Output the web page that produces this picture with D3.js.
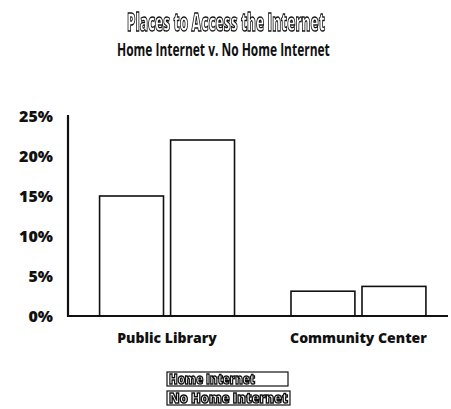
<!DOCTYPE html>
<html>
<head>
<meta charset="utf-8">
<script src="https://cdn.jsdelivr.net/npm/d3@7"></script>
<style>
  html, body { margin: 0; padding: 0; background: #fff; }
  svg { display: block; }
  text { font-family: "Open Sans", "DejaVu Sans", sans-serif; }
</style>
</head>
<body>
<div id="chart"></div>
<script>
// Share of people using each place to get online, by home access
const categories = ["Public Library", "Community Center"];
const seriesNames = ["Home Internet", "No Home Internet"];
const homeInternet = [15, 3.1];
const noHomeInternet = [22, 3.7];
const yTicks = [0, 5, 10, 15, 20, 25];

const W = 451, H = 409;
const svg = d3.select("#chart").append("svg")
  .attr("width", W).attr("height", H);

// Identity filter covering the whole canvas: outlined text gets plain greyscale smoothing
svg.append("defs").append("filter")
  .attr("id", "flat")
  .attr("filterUnits", "userSpaceOnUse")
  .attr("x", 0).attr("y", 0).attr("width", W).attr("height", H)
  .append("feOffset").attr("dx", 0).attr("dy", 0);

// Place a text so that it starts at x and is squeezed to the given width
function condensed(sel, x, yPos, width) {
  const natural = sel.node().getComputedTextLength();
  const k = width / natural;
  sel.attr("x", 0).attr("y", 0)
    .attr("transform", `translate(${x},${yPos}) scale(${k},1)`);
  return sel;
}

const rows = categories.map((c, i) => ({
  category: c,
  values: [
    { series: seriesNames[0], value: homeInternet[i] },
    { series: seriesNames[1], value: noHomeInternet[i] }
  ]
}));

const axisX = 68, baseY = 316, topY = 116;

const y = d3.scaleLinear().domain([0, 25]).range([baseY, topY]);
const x0 = d3.scaleBand().domain(categories)
  .range([68, 457.5]).paddingInner(0.295).paddingOuter(0.165);
const x1 = d3.scaleBand().domain(seriesNames)
  .range([0, x0.bandwidth()]).paddingInner(0.1);

// Title block: outlined heading and bold subheading
const title = svg.append("g").attr("filter", "url(#flat)")
  .append("text")
  .attr("font-size", 25)
  .attr("font-weight", 800)
  .attr("fill", "#fff").attr("stroke", "#111").attr("stroke-width", 1.4)
  .text("Places to Access the Internet");
condensed(title, 127, 31, 198);

const subtitle = svg.append("text")
  .attr("font-size", 18)
  .attr("font-weight", 700)
  .attr("fill", "#111")
  .text("Home Internet v. No Home Internet");
condensed(subtitle, 117, 56, 213);

// Bars
const groups = svg.append("g").selectAll("g")
  .data(rows).join("g")
  .attr("transform", d => `translate(${x0(d.category)},0)`);

groups.selectAll("rect")
  .data(d => d.values).join("rect")
  .attr("x", d => x1(d.series))
  .attr("y", d => y(d.value))
  .attr("width", x1.bandwidth())
  .attr("height", d => baseY - y(d.value))
  .attr("fill", "#fff")
  .attr("stroke", "#111")
  .attr("stroke-width", 1.6);

// Y axis: tick labels only, with a heavy axis line
const yAxis = d3.axisLeft(y).tickValues(yTicks)
  .tickFormat(d => d + "%").tickSize(0).tickPadding(15);
const gy = svg.append("g")
  .attr("transform", `translate(${axisX},0)`)
  .call(yAxis);
gy.select(".domain").remove();
gy.selectAll("text")
  .attr("font-family", "'Open Sans', sans-serif")
  .attr("font-size", 16)
  .attr("font-weight", 800)
  .attr("fill", "#111")
  .attr("dy", "0.36em");

svg.append("line")
  .attr("x1", axisX).attr("x2", axisX)
  .attr("y1", topY - 1).attr("y2", baseY + 1)
  .attr("stroke", "#111").attr("stroke-width", 2.2);

// Baseline / category axis
const xAxis = d3.axisBottom(x0).tickSize(0).tickPadding(17);
const gx = svg.append("g")
  .attr("transform", `translate(0,${baseY})`)
  .call(xAxis);
gx.select(".domain").remove();
gx.selectAll("text")
  .attr("font-family", "'Open Sans', sans-serif")
  .attr("font-size", 14)
  .attr("font-weight", 800)
  .attr("fill", "#111");

svg.append("line")
  .attr("x1", axisX).attr("x2", 448)
  .attr("y1", baseY).attr("y2", baseY)
  .attr("stroke", "#111").attr("stroke-width", 2.2);

// Legend: outlined labels in framed boxes
const legend = svg.append("g").attr("filter", "url(#flat)");
const legendBoxes = [
  { label: seriesNames[0], y: 372, w: 121, tl: 86 },
  { label: seriesNames[1], y: 391, w: 123, tl: 119 }
];
legendBoxes.forEach(b => {
  legend.append("rect")
    .attr("x", 167).attr("y", b.y)
    .attr("width", b.w).attr("height", 14)
    .attr("fill", "#fff").attr("stroke", "#111").attr("stroke-width", 1.2);
  const t = legend.append("text")
    .attr("font-size", 14)
    .attr("font-weight", 800)
    .attr("fill", "#fff").attr("stroke", "#111").attr("stroke-width", 1.5)
    .text(b.label);
  condensed(t, 169, b.y + 11.5, b.tl);
});
</script>
</body>
</html>
